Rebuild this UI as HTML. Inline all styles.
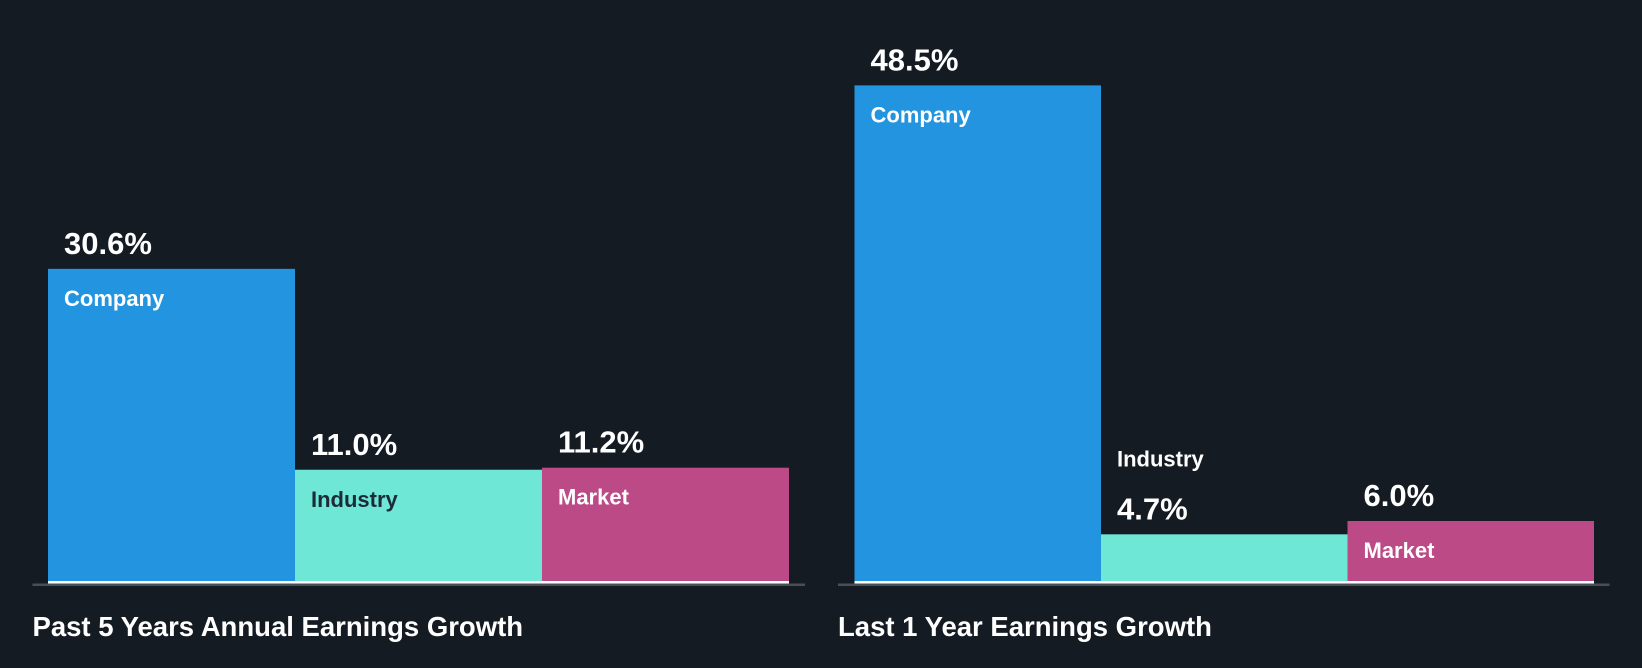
<!DOCTYPE html>
<html><head><meta charset="utf-8"><style>
html,body{margin:0;padding:0;background:#151b23;}
svg{display:block;font-family:"Liberation Sans",Roboto,sans-serif;font-weight:bold;}
</style></head><body>
<svg id="c" width="1642" height="668" viewBox="0 0 1642 668">
<rect width="1642" height="668" fill="#151b23"/>
</svg>
<script>
const categories = ["Company","Industry","Market"];
const pastFiveYears = [30.6, 11.0, 11.2];
const lastOneYear = [48.5, 4.7, 6.0];
const panelTitles = ["Past 5 Years Annual Earnings Growth","Last 1 Year Earnings Growth"];
const colors = ["#2394df","#6ee7d6","#bb4a86"];
const labelColors = ["#ffffff","#1d2b38","#ffffff"];
const svg = document.getElementById('c');
const NS = 'http://www.w3.org/2000/svg';
const baseY = 582.5, pxPerUnit = 10.25;
function y(v){ return baseY - v*pxPerUnit; }
function mk(tag, attrs, parent){ const e=document.createElementNS(NS,tag); for(const k in attrs) e.setAttribute(k,attrs[k]); (parent||svg).appendChild(e); return e; }
const panels = [
  {data: pastFiveYears, x0: 48, bw: 247, ax0: 32.5, ax1: 805, tx: 32.5, key:'past-5-years'},
  {data: lastOneYear, x0: 854.5, bw: 246.5, ax0: 838, ax1: 1609.5, tx: 838, key:'last-1-year'}
];
panels.forEach((p, pi) => {
  const g = mk('g', {});
  
  
  p.data.forEach((v, i) => {
    const x = p.x0 + i*p.bw, top = y(v), h = baseY - top;
    const r = mk('rect', {x: x, y: top, width: p.bw, height: h, fill: colors[i]}, g);
    
    
    const vt = mk('text', {x: x+16, y: top-15, fill: '#fff', 'font-size': 31}, g);
    vt.textContent = v.toFixed(1) + '%';
    
    
    const inside = h > 50;
    const ct = mk('text', {x: x+16, y: inside ? top+37 : top-68, fill: inside ? labelColors[i] : '#fff', 'font-size': 22}, g);
    ct.textContent = categories[i];
    
    
  });
  const wl = mk('rect', {x: p.x0, y: baseY-1.5, width: p.bw*3, height: 2.5, fill: '#ffffff'}, g);
  
  
  const ax = mk('rect', {x: p.ax0, y: baseY+1, width: p.ax1-p.ax0, height: 2.5, fill: '#4a4f57'}, g);
  
  
  const t = mk('text', {x: p.tx, y: 636, fill: '#fff', 'font-size': 27.5}, g);
  t.textContent = panelTitles[pi];
  
  
});
</script>
</body></html>
